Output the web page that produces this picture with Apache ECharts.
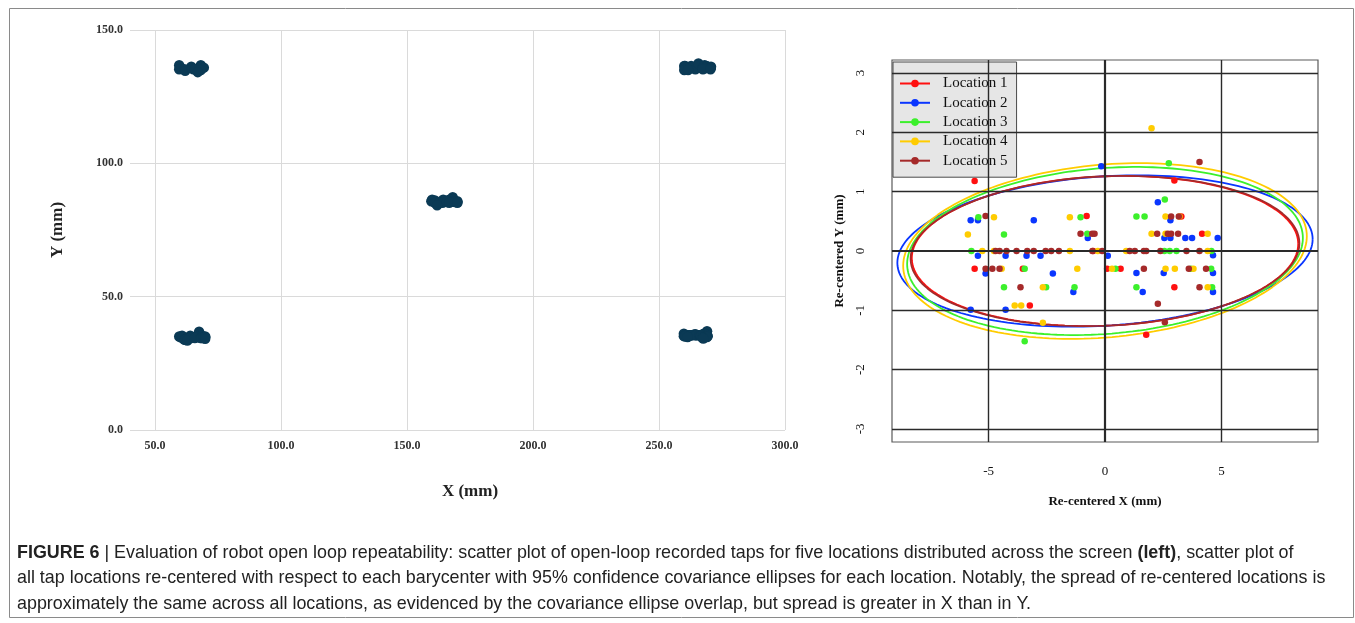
<!DOCTYPE html>
<html><head><meta charset="utf-8">
<script src="https://cdn.jsdelivr.net/npm/echarts@6/dist/echarts.min.js"></script>
<style>html,body{margin:0;padding:0;background:#fff}#c{width:1355px;height:623px}</style>
</head><body><div id="c"></div>
<script>
// ---------- data ----------
const locationNames = ['Location 1', 'Location 2', 'Location 3', 'Location 4', 'Location 5'];
const locationColors = ['#ff1010', '#0a36ff', '#3cf02c', '#ffcc00', '#a52a2a'];

// re-centered tap offsets (mm)
const loc1X = [-5.60, -0.79, -5.60, -3.53, 0.09, -3.23, -0.51, 2.98, 3.28, 4.17, 0.67, 2.98, 1.77];
const loc1Y = [1.18, 0.59, -0.30, -0.30, -0.30, -0.92, 0.00, 1.19, 0.58, 0.29, -0.30, -0.61, -1.41];
const loc2X = [-5.77, -5.46, -3.06, -0.74, -5.46, -4.27, -3.37, -2.77, 0.12, -5.13, -2.24, -1.36, -5.77, -4.27, -0.16, 2.27, 2.81, 2.55, 2.81, 3.45, 3.74, 4.84, 4.64, 1.35, 2.52, 4.64, 1.62, 4.64];
const loc2Y = [0.52, 0.52, 0.52, 0.22, -0.08, -0.08, -0.08, -0.08, -0.08, -0.38, -0.38, -0.69, -0.99, -0.99, 1.43, 0.82, 0.52, 0.22, 0.22, 0.22, 0.22, 0.22, -0.07, -0.37, -0.37, -0.37, -0.69, -0.69];
const loc3X = [-5.44, -1.05, -4.34, -0.76, -5.74, -3.45, -4.34, -2.53, -1.31, -3.45, 2.74, 2.57, 1.35, 1.70, 2.55, 2.78, 3.07, 4.57, 0.45, 3.69, 4.56, 1.35, 4.60];
const loc3Y = [0.57, 0.57, 0.28, 0.29, 0.00, -0.30, -0.61, -0.61, -0.61, -1.52, 1.48, 0.87, 0.58, 0.58, 0.00, 0.00, 0.00, 0.00, -0.30, -0.30, -0.30, -0.61, -0.61];
const loc4X = [-4.77, -1.51, -5.89, -5.27, -4.77, -1.51, -0.31, -4.44, -1.19, -2.67, -3.88, -3.60, -2.67, 2.00, 2.60, 3.20, 2.00, 2.60, 4.41, 0.91, 4.41, 0.30, 2.60, 3.00, 3.80, 4.41];
const loc4Y = [0.57, 0.57, 0.28, 0.00, 0.00, 0.00, 0.00, -0.30, -0.30, -0.61, -0.92, -0.92, -1.21, 2.07, 0.58, 0.58, 0.29, 0.29, 0.29, 0.00, 0.00, -0.30, -0.30, -0.30, -0.30, -0.61];
const loc5X = [-5.13, -1.05, -0.55, -0.45, -4.70, -4.53, -4.23, -3.80, -3.34, -3.06, -2.55, -2.31, -1.98, -0.54, -0.12, -5.13, -4.84, -4.53, -3.63, 4.06, 2.84, 3.17, 2.24, 2.70, 2.84, 3.14, 1.06, 1.28, 1.67, 1.77, 2.38, 3.50, 4.06, 1.67, 3.60, 4.34, 4.06, 2.27, 2.57];
const loc5Y = [0.59, 0.29, 0.29, 0.29, 0.00, 0.00, 0.00, 0.00, 0.00, 0.00, 0.00, 0.00, 0.00, 0.00, 0.00, -0.30, -0.30, -0.30, -0.61, 1.50, 0.58, 0.58, 0.29, 0.29, 0.29, 0.29, 0.00, 0.00, 0.00, 0.00, 0.00, 0.00, 0.00, -0.30, -0.30, -0.30, -0.61, -0.89, -1.20];

// barycenters of the five tap locations on the screen (mm), left panel
const baryX = [65.2, 265.8, 165.4, 65.5, 265.0];
const baryY = [135.6, 136.0, 85.8, 34.8, 35.5];

// 95% covariance ellipses: x semi-axis, y semi-axis, y offset at the x extremes (tilt)
const ellipseSemiX = [8.30, 8.92, 8.50, 8.67, 8.35];
const ellipseSemiY = [1.26, 1.26, 1.40, 1.46, 1.26];
const ellipseTilt  = [0.12, 0.20, 0.22, 0.25, 0.13];

// tick labels
const leftXTicks = [50, 100, 150, 200, 250, 300];
const leftYTicks = [0, 50, 100, 150];
const rightXTicks = [-5, 0, 5];
const rightYTicks = [-3, -2, -1, 0, 1, 2, 3];

// ---------- build ----------
const offX = [loc1X, loc2X, loc3X, loc4X, loc5X];
const offY = [loc1Y, loc2Y, loc3Y, loc4Y, loc5Y];
const SERIF = '"Liberation Serif", "Times New Roman", serif';
const SANS = '"Liberation Sans", Arial, sans-serif';
const CAP = 17.9;

const rawPoints = [];
for (let i = 0; i < 5; i++) {
  for (let j = 0; j < offX[i].length; j++) {
    rawPoints.push([baryX[i] + offX[i][j], baryY[i] + offY[i][j]]);
  }
}

function ellipsePoints(i) {
  const pts = [];
  const n = 180;
  for (let k = 0; k <= n; k++) {
    const t = 2 * Math.PI * k / n;
    pts.push([ellipseSemiX[i] * Math.cos(t), ellipseSemiY[i] * Math.sin(t) + ellipseTilt[i] * Math.cos(t)]);
  }
  return pts;
}

const gridLineData = [];
rightXTicks.forEach(v => gridLineData.push({ xAxis: v, lineStyle: { width: v === 0 ? 2.2 : 1.4 } }));
rightYTicks.forEach(v => gridLineData.push({ yAxis: v, lineStyle: { width: v === 0 ? 2.2 : 1.4 } }));

const series = [];
series.push({
  type: 'scatter', xAxisIndex: 0, yAxisIndex: 0, data: rawPoints,
  symbolSize: 10.5, itemStyle: { color: '#0b3a55', opacity: 1 }, silent: true
});
series.push({
  name: 'grid', type: 'line', xAxisIndex: 1, yAxisIndex: 1, data: [], z: 1,
  markLine: {
    silent: true, symbol: ['none', 'none'], label: { show: false },
    lineStyle: { color: '#2a2a2a', type: 'solid', width: 1.4 },
    emphasis: { disabled: true },
    animation: false,
    data: gridLineData
  }
});
for (let i = 0; i < 5; i++) {
  series.push({
    name: locationNames[i], type: 'line', xAxisIndex: 1, yAxisIndex: 1,
    data: ellipsePoints(i), showSymbol: false, symbol: 'circle', symbolSize: 8,
    lineStyle: { color: locationColors[i], width: 1.8 }, itemStyle: { color: locationColors[i] },
    z: 3, silent: true
  });
}
for (let i = 0; i < 5; i++) {
  series.push({
    name: locationNames[i], type: 'scatter', xAxisIndex: 1, yAxisIndex: 1,
    data: offX[i].map((x, j) => [x, offY[i][j]]), symbolSize: 6.5,
    itemStyle: { color: locationColors[i], opacity: 1 }, z: 4, silent: true
  });
}

const light = '#dadada';
const option = {
  animation: false,
  backgroundColor: '#ffffff',
  grid: [
    { left: 155, top: 30, width: 630, height: 400 },
    { left: 892, top: 60, width: 426, height: 382, show: true, borderColor: '#5a5a5a', borderWidth: 1.2, backgroundColor: 'transparent' }
  ],
  xAxis: [
    {
      gridIndex: 0, type: 'value', min: 50, max: 300, interval: 50,
      axisLine: { show: false }, axisTick: { show: false },
      splitLine: { show: true, lineStyle: { color: light, width: 1 } },
      axisLabel: { margin: 10, formatter: v => v.toFixed(1), fontFamily: SERIF, fontWeight: 'bold', fontSize: 12, color: '#333' },
      name: 'X (mm)', nameLocation: 'middle', nameGap: 53,
      nameTextStyle: { fontFamily: SERIF, fontWeight: 'bold', fontSize: 17, color: '#222' }
    },
    {
      gridIndex: 1, type: 'value', min: -9.15, max: 9.15,
      axisLine: { show: false }, splitLine: { show: false },
      axisTick: { show: true, customValues: rightXTicks, length: 6, lineStyle: { color: '#333' } },
      axisLabel: { customValues: rightXTicks, margin: 23, fontFamily: SERIF, fontSize: 13, color: '#111' },
      name: 'Re-centered X (mm)', nameLocation: 'middle', nameGap: 53,
      nameTextStyle: { fontFamily: SERIF, fontWeight: 'bold', fontSize: 13, color: '#111' }
    }
  ],
  yAxis: [
    {
      gridIndex: 0, type: 'value', min: 0, max: 150, interval: 50,
      axisLine: { show: false },
      axisTick: { show: true, length: 25, lineStyle: { color: light } },
      splitLine: { show: true, lineStyle: { color: light, width: 1 } },
      axisLabel: { margin: 32, formatter: v => v.toFixed(1), fontFamily: SERIF, fontWeight: 'bold', fontSize: 12, color: '#333' },
      name: 'Y (mm)', nameLocation: 'middle', nameGap: 89, nameRotate: 90,
      nameTextStyle: { fontFamily: SERIF, fontWeight: 'bold', fontSize: 17, color: '#222' }
    },
    {
      gridIndex: 1, type: 'value', min: -3.22, max: 3.22,
      axisLine: { show: false }, splitLine: { show: false },
      axisTick: { show: true, customValues: rightYTicks, length: 6, lineStyle: { color: '#333' } },
      axisLabel: { customValues: rightYTicks, rotate: 90, margin: 25, fontFamily: SERIF, fontSize: 13, color: '#111' },
      name: 'Re-centered Y (mm)', nameLocation: 'middle', nameGap: 46, nameRotate: 90,
      nameTextStyle: { fontFamily: SERIF, fontWeight: 'bold', fontSize: 13, color: '#111' }
    }
  ],
  legend: {
    data: locationNames, left: 893, top: 62, orient: 'vertical',
    backgroundColor: '#e6e6e6', borderColor: '#4a4a4a', borderWidth: 1, borderRadius: 0,
    padding: [14, 9, 9, 6], itemWidth: 30, itemHeight: 9.5, itemGap: 4.3,
    selectedMode: false,
    textStyle: { fontFamily: SERIF, fontSize: 15, color: '#111', padding: [0, 0, 0, 8] }
  },
  series: series,
  graphic: [
    { type: 'rect', silent: true, shape: { x: 9.5, y: 8.5, width: 1344, height: 609 }, style: { fill: 'none', stroke: '#8a8a8a', lineWidth: 1 } },
    {
      type: 'text', x: 17, y: 553, silent: true,
      style: {
        text: '{b|FIGURE 6} | Evaluation of robot open loop repeatability: scatter plot of open-loop recorded taps for five locations distributed across the screen {b|(left)}, scatter plot of',
        fontFamily: SANS, fontSize: CAP, fill: '#222', verticalAlign: 'middle',
        rich: { b: { fontFamily: SANS, fontSize: CAP, fontWeight: 'bold', fill: '#222' } }
      }
    },
    {
      type: 'text', x: 17, y: 578, silent: true,
      style: { text: 'all tap locations re-centered with respect to each barycenter with 95% confidence covariance ellipses for each location. Notably, the spread of re-centered locations is', fontFamily: SANS, fontSize: CAP, fill: '#222', verticalAlign: 'middle' }
    },
    {
      type: 'text', x: 17, y: 604, silent: true,
      style: { text: 'approximately the same across all locations, as evidenced by the covariance ellipse overlap, but spread is greater in X than in Y.', fontFamily: SANS, fontSize: CAP, fill: '#222', verticalAlign: 'middle' }
    }
  ]
};

const chart = echarts.init(document.getElementById('c'), null, { renderer: 'canvas' });
chart.setOption(option);
</script>
</body></html>
